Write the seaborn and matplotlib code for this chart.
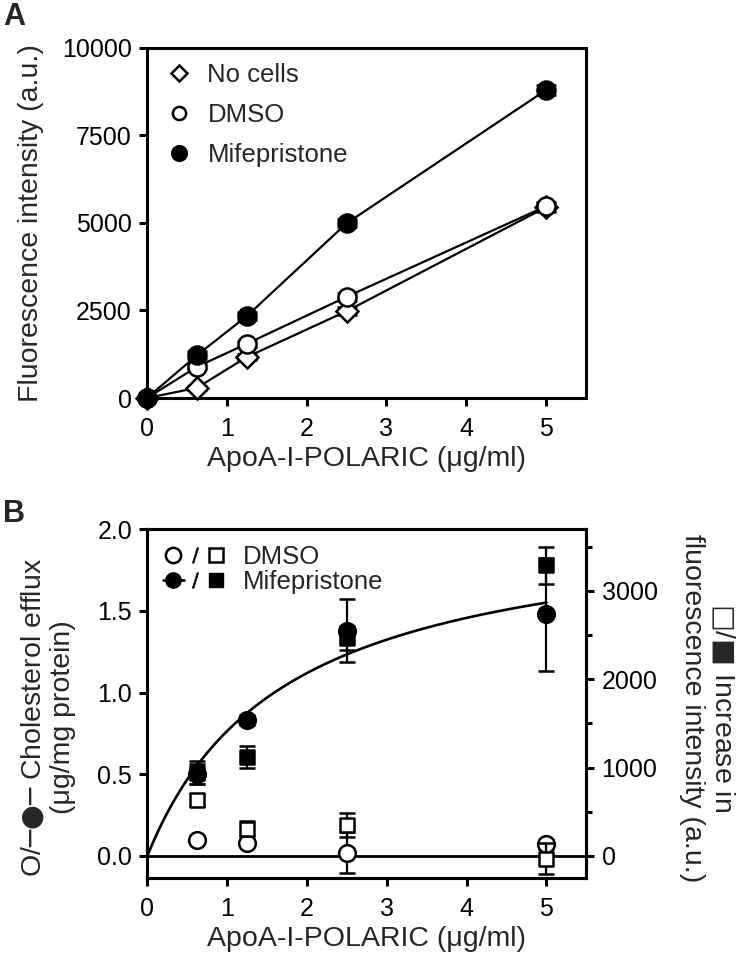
import numpy as np
import matplotlib
matplotlib.use('Agg')
import matplotlib.pyplot as plt
import seaborn as sns
from matplotlib.lines import Line2D
from matplotlib.legend_handler import HandlerTuple
from matplotlib.ticker import MultipleLocator, FormatStrFormatter

sns.set_theme(style='ticks')
plt.rcParams['font.family'] = ['Liberation Sans', 'DejaVu Sans']
plt.rcParams['mathtext.fontset'] = 'dejavusans'

# ---- Panel A: fluorescence vs ApoA-I-POLARIC ----
conc_a = [0, 0.625, 1.25, 2.5, 5]
nocells = [0, 290, 1170, 2480, 5450]
nocells_err = [40, 60, 90, 110, 130]
dmso_a = [0, 890, 1550, 2890, 5480]
dmso_a_err = [40, 70, 90, 110, 130]
mife_a = [0, 1220, 2340, 4990, 8800]
mife_a_err = [40, 110, 120, 110, 130]

# ---- Panel B: efflux (left) / fluorescence increase (right) ----
conc_b = [0.625, 1.25, 2.5, 5]
dmso_efflux = [0.10, 0.08, 0.02, 0.07]
dmso_efflux_err = [0.02, 0.02, 0.125, 0.03]
mife_efflux = [0.50, 0.83, 1.38, 1.48]
mife_efflux_err = [0.06, 0.03, 0.19, 0.345]
dmso_fluor = [630, 310, 350, -30]
dmso_fluor_err = [70, 80, 140, 180]
mife_fluor = [940, 1120, 2470, 3290]
mife_fluor_err = [130, 125, 135, 210]

TICK_FS = 18
LABEL_FS = 20.5
LEG_FS = 18.5
SPINE_W = 2.2
MEW = 1.8


def style_axes(ax):
    for sp in ax.spines.values():
        sp.set_visible(True)
        sp.set_linewidth(SPINE_W)
        sp.set_color('black')
    ax.tick_params(which='major', length=6, width=SPINE_W, labelsize=TICK_FS,
                   color='black', labelcolor='black')
    ax.tick_params(axis='x', pad=8)
    ax.tick_params(axis='y', pad=5)
    ax.set_xlim(0, 5.5)
    ax.xaxis.set_major_locator(MultipleLocator(1))
    ax.grid(False)


fig = plt.figure(figsize=(7.47, 9.63), dpi=100)

# ================= Panel A =================
axA = fig.add_axes([0.1968, 0.5867, 0.5877, 0.3635])
style_axes(axA)

series_a = [
    (nocells, nocells_err, 'D', 'white', 11),
    (dmso_a, dmso_a_err, 'o', 'white', 13),
    (mife_a, mife_a_err, 'o', 'black', 13),
]
for z, (vals, errs, mk, fc, ms) in enumerate(series_a):
    axA.errorbar(conc_a, vals, yerr=errs, fmt='none', ecolor='black',
                 elinewidth=1.6, capsize=7, capthick=1.8, zorder=3 + z)
    sns.lineplot(x=conc_a, y=vals, ax=axA, color='black', linewidth=1.6,
                 marker=mk, markersize=ms, markerfacecolor=fc,
                 markeredgecolor='black', markeredgewidth=MEW, zorder=3 + z,
                 clip_on=False)

axA.set_ylim(0, 10000)
axA.yaxis.set_major_locator(MultipleLocator(2500))
axA.yaxis.set_major_formatter(FormatStrFormatter('%d'))
axA.set_xlabel('ApoA-I-POLARIC (\u03bcg/ml)', fontsize=LABEL_FS, labelpad=3)
axA.set_ylabel('Fluorescence intensity (a.u.)', fontsize=LABEL_FS)
axA.yaxis.set_label_coords(-0.235, 0.5)

legA_handles = [
    Line2D([], [], ls='none', marker='D', ms=8, mfc='white', mec='black', mew=MEW),
    Line2D([], [], ls='none', marker='o', ms=9.5, mfc='white', mec='black', mew=MEW),
    Line2D([], [], ls='none', marker='o', ms=10.5, mfc='black', mec='black', mew=MEW),
]
axA.legend(legA_handles, ['No cells', 'DMSO', 'Mifepristone'], loc='upper left',
           frameon=False, fontsize=LEG_FS, handlelength=1.3, handletextpad=0.45,
           labelspacing=0.62, borderaxespad=0.3, borderpad=0.3)

# ================= Panel B =================
axB = fig.add_axes([0.1972, 0.0883, 0.5877, 0.3621])
style_axes(axB)
axB2 = axB.twinx()
style_axes(axB2)

axB.set_ylim(-0.135, 2.0)
axB.yaxis.set_major_locator(MultipleLocator(0.5))
axB.yaxis.set_major_formatter(FormatStrFormatter('%.1f'))
scale = 1848.0
axB2.set_ylim(-0.135 * scale, 2.0 * scale)
axB2.yaxis.set_major_locator(MultipleLocator(1000))
axB2.yaxis.set_minor_locator(MultipleLocator(500))
axB2.yaxis.set_major_formatter(FormatStrFormatter('%d'))
axB2.tick_params(axis='y', which='minor', length=4, width=SPINE_W, color='black')
axB2.tick_params(axis='y', pad=5)

axB.axhline(0, color='black', linewidth=2.0, zorder=2)

# one-site hyperbolic fit of mifepristone efflux
xb = np.array([0.0] + conc_b)
yb = np.array([0.0] + mife_efflux)
best = None
for kd in np.arange(0.2, 6.0, 0.005):
    f = xb / (kd + xb)
    bmax = (yb @ f) / (f @ f)
    sse = ((yb - bmax * f) ** 2).sum()
    if best is None or sse < best[0]:
        best = (sse, kd, bmax)
_, kd, bmax = best
xs = np.linspace(0, 5, 300)
sns.lineplot(x=xs, y=bmax * xs / (kd + xs), ax=axB, color='black',
             linewidth=1.9, zorder=3)

# efflux circles (left axis)
axB.errorbar(conc_b, dmso_efflux, yerr=dmso_efflux_err, fmt='none', ecolor='black',
             elinewidth=1.6, capsize=6, capthick=1.8, zorder=4)
axB.errorbar(conc_b, mife_efflux, yerr=mife_efflux_err, fmt='none', ecolor='black',
             elinewidth=1.6, capsize=6, capthick=1.8, zorder=4)
sns.scatterplot(x=conc_b, y=dmso_efflux, ax=axB, marker='o', s=12 ** 2,
                facecolor='white', edgecolor='black', linewidth=MEW, zorder=5)
sns.scatterplot(x=conc_b, y=mife_efflux, ax=axB, marker='o', s=12 ** 2,
                facecolor='black', edgecolor='black', linewidth=MEW, zorder=5)

# fluorescence squares (right axis)
axB2.errorbar(conc_b, dmso_fluor, yerr=dmso_fluor_err, fmt='none', ecolor='black',
              elinewidth=1.6, capsize=6, capthick=1.8, zorder=4)
axB2.errorbar(conc_b, mife_fluor, yerr=mife_fluor_err, fmt='none', ecolor='black',
              elinewidth=1.6, capsize=6, capthick=1.8, zorder=4)
sns.scatterplot(x=conc_b, y=dmso_fluor, ax=axB2, marker='s', s=10.5 ** 2,
                facecolor='white', edgecolor='black', linewidth=MEW, zorder=5)
sns.scatterplot(x=conc_b, y=mife_fluor, ax=axB2, marker='s', s=10.5 ** 2,
                facecolor='black', edgecolor='black', linewidth=MEW, zorder=5)

axB.set_xlabel('ApoA-I-POLARIC (\u03bcg/ml)', fontsize=LABEL_FS, labelpad=3)
axB.set_ylabel('O/$\u2500\u25cf\u2500$ Cholesterol efflux\n(\u03bcg/mg protein)',
               fontsize=LABEL_FS, multialignment='center')
axB.yaxis.set_label_coords(-0.162, 0.46)
axB2.set_ylabel('$\u25a1$/$\u25a0$ Increase in\nfluorescence intensity (a.u.)',
                fontsize=LABEL_FS, rotation=270, multialignment='center')
axB2.yaxis.set_label_coords(1.211, 0.4875)
axB2.yaxis.label.set_verticalalignment('bottom')

slash = Line2D([], [], ls='none', marker='$/$', ms=11, color='black', mew=0.5)
legB_handles = [
    (Line2D([], [], ls='none', marker='o', ms=11, mfc='white', mec='black', mew=MEW),
     slash,
     Line2D([], [], ls='none', marker='s', ms=10, mfc='white', mec='black', mew=MEW)),
    (Line2D([], [], ls='-', lw=1.9, color='black', marker='o', ms=11, mfc='black',
            mec='black'),
     slash,
     Line2D([], [], ls='none', marker='s', ms=10, mfc='black', mec='black')),
]
axB.legend(legB_handles, ['DMSO', 'Mifepristone'], loc='upper left', frameon=False,
           fontsize=LEG_FS, handlelength=2.5, handletextpad=0.6, labelspacing=0.05,
           borderaxespad=0.3, borderpad=0.3,
           handler_map={tuple: HandlerTuple(ndivide=None, pad=0.0)})

fig.text(0.004, 0.998, 'A', fontsize=22, fontweight='bold', va='top', ha='left')
fig.text(0.004, 0.482, 'B', fontsize=22, fontweight='bold', va='top', ha='left')

fig.savefig('out.png', dpi=100, facecolor='white')
